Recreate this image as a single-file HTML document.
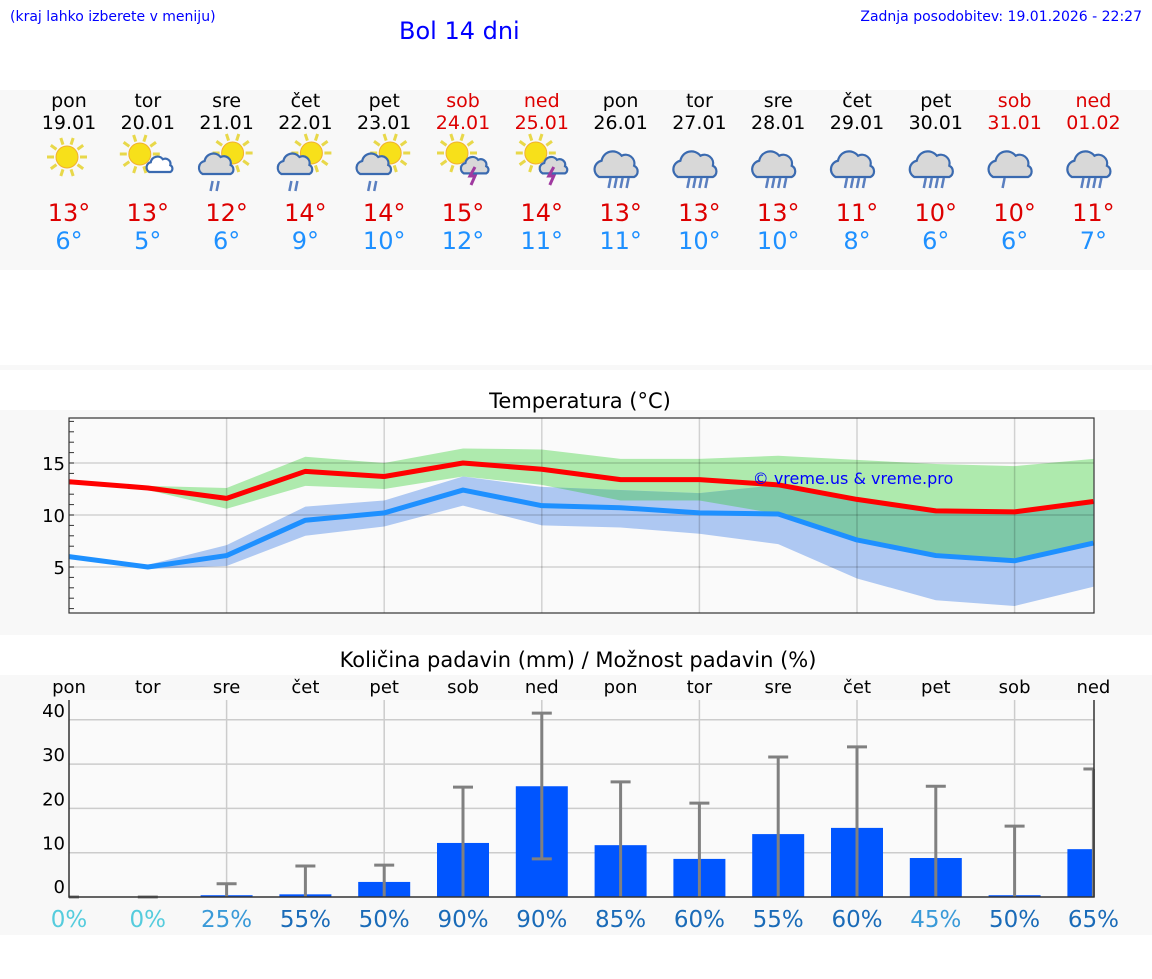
<!DOCTYPE html>
<html><head><meta charset="utf-8">
<style>
html,body{margin:0;padding:0;background:#fff;}
body{width:1152px;height:975px;overflow:hidden;font-family:"DejaVu Sans","Liberation Sans",sans-serif;}
svg text{font-family:"DejaVu Sans","Liberation Sans",sans-serif;}
</style></head>
<body>
<svg id="s" width="1152" height="975" viewBox="0 0 1152 975" xmlns="http://www.w3.org/2000/svg">
<text x="10" y="21" font-size="14" fill="#00f">(kraj lahko izberete v meniju)</text>
<text x="399" y="39" font-size="24" fill="#00f">Bol 14 dni</text>
<text x="1142" y="21" font-size="14" fill="#00f" text-anchor="end">Zadnja posodobitev: 19.01.2026 - 22:27</text>
<rect x="0" y="90" width="1152" height="180" fill="#f8f8f8"/>
<rect x="0" y="365" width="1152" height="5" fill="#f8f8f8"/>
<rect x="0" y="410" width="1152" height="225" fill="#f8f8f8"/>
<rect x="0" y="675" width="1152" height="260" fill="#f8f8f8"/>
<text x="580" y="408" font-size="21" text-anchor="middle" fill="#000">Temperatura (°C)</text>
<text x="578" y="667" font-size="21" text-anchor="middle" fill="#000">Količina padavin (mm) / Možnost padavin (%)</text>
<defs><clipPath id="blueclip"><polygon id="bluepoly" points=""/></clipPath></defs>
<g id="top"></g><g id="tc"></g><g id="pc"></g>
</svg>
<script>
const days=["pon","tor","sre","čet","pet","sob","ned","pon","tor","sre","čet","pet","sob","ned"];
const dates=["19.01","20.01","21.01","22.01","23.01","24.01","25.01","26.01","27.01","28.01","29.01","30.01","31.01","01.02"];
const icons=["sun","suncloud","sunrain","sunrain","sunrain","sunstorm","sunstorm","rain","rain","rain","rain","rain","rain2","rain"];
const hiLabel=[13,13,12,14,14,15,14,13,13,13,11,10,10,11];
const loLabel=[6,5,6,9,10,12,11,11,10,10,8,6,6,7];
const tMax=[13.2,12.6,11.6,14.2,13.7,15.0,14.4,13.4,13.4,12.9,11.5,10.4,10.3,11.3];
const tMin=[6.0,5.0,6.1,9.5,10.2,12.4,10.9,10.7,10.2,10.1,7.6,6.1,5.6,7.3];
const maxHi=[13.3,12.8,12.6,15.6,15.0,16.4,16.3,15.4,15.4,15.7,15.3,14.9,14.7,15.4];
const maxLo=[13.1,12.4,10.6,12.8,12.5,13.7,12.9,11.4,11.4,10.1,7.6,6.1,5.6,7.3];
const minHi=[6.1,5.2,7.1,10.8,11.4,13.7,12.7,12.4,12.1,12.9,11.5,10.4,10.3,11.3];
const minLo=[5.9,4.8,5.1,8.0,8.9,10.9,9.0,8.8,8.2,7.2,3.9,1.8,1.25,3.1];
const precip=[0,0,0.4,0.6,3.4,12.2,25,11.7,8.6,14.2,15.6,8.8,0.4,10.8];
const precipHi=[0,0,3,7,7.2,24.8,41.5,26,21.2,31.6,33.9,25,16,28.9];
const precipLo=[0,0,0,0,0,0,8.6,0,0,0,0,0,0,0];
const chance=[0,0,25,55,50,90,90,85,60,55,60,45,50,65];
const tTicks=[5,10,15];
const pTicks=[10,20,30,40];

const NS="http://www.w3.org/2000/svg";
function mk(p,t,a){const e=document.createElementNS(NS,t);for(const k in a)e.setAttribute(k,a[k]);p.appendChild(e);return e;}
const X=i=>69+i*78.8;
const topG=document.getElementById('top');
function sun(g,cx,cy,r){
  for(let k=0;k<10;k++){const a=k*Math.PI/5;mk(g,'line',{x1:cx+Math.cos(a)*(r+2),y1:cy+Math.sin(a)*(r+2),x2:cx+Math.cos(a)*(r+9),y2:cy+Math.sin(a)*(r+9),stroke:'#e8d84a','stroke-width':3});}
  mk(g,'circle',{cx:cx,cy:cy,r:r,fill:'#f7e01a',stroke:'#f0b030','stroke-width':1});
}
function cloud(g,cx,cy,s,fill){
  const d=`M${cx-14*s},${cy+8*s} a${7*s},${7*s} 0 0 1 ${2*s},${-13*s} a${9*s},${9*s} 0 0 1 ${16*s},${-4*s} a${7*s},${7*s} 0 0 1 ${10*s},${8*s} a${5*s},${5*s} 0 0 1 ${0},${9*s} z`;
  mk(g,'path',{d:d,fill:fill,stroke:'#3a6ab0','stroke-width':2.2});
}
function drops(g,cx,cy,n){for(let k=0;k<n;k++){mk(g,'line',{x1:cx+k*6,y1:cy,x2:cx+k*6-2,y2:cy+10,stroke:'#5a7fc0','stroke-width':2.5});}}
days.forEach((d,i)=>{
  const x=X(i);const we=(i==5||i==6||i==12||i==13);const col=we?'#d00':'#000';
  const t1=mk(topG,'text',{x:x,y:107,'font-size':19,'text-anchor':'middle',fill:col});t1.textContent=d;
  
  
  const t2=mk(topG,'text',{x:x,y:129,'font-size':19,'text-anchor':'middle',fill:col});t2.textContent=dates[i];
  
  
  const g=mk(topG,'g',{});
  
  
  const ic=icons[i];
  if(ic=='sun'){sun(g,x-2,157,11);}
  else if(ic=='suncloud'){sun(g,x-8,154,11);cloud(g,x+12,166,0.75,'#fff');}
  else if(ic=='sunrain'){sun(g,x+6,153,11);cloud(g,x-10,166,1,'#d8d8d8');drops(g,x-14,181,2);}
  else if(ic=='sunstorm'){sun(g,x-6,153,11);cloud(g,x+12,167,0.8,'#d8d8d8');mk(g,'path',{d:`M${x+12},${167} l-5,9 h5 l-4,9`,stroke:'#a03aa0','stroke-width':3,fill:'none'});}
  else {cloud(g,x-4,167,1.25,'#d8d8d8');drops(g,x-10,178,ic=='rain2'?1:4);}
  const h=mk(topG,'text',{x:x,y:221,'font-size':24,'text-anchor':'middle',fill:'#d00'});h.textContent=hiLabel[i]+'°';
  
  
  const l=mk(topG,'text',{x:x,y:249,'font-size':24,'text-anchor':'middle',fill:'#1e90ff'});l.textContent=loLabel[i]+'°';
  
  
});
// temperature chart
const tc=document.getElementById('tc');
const L=69,R=1094,TT=418,TB=613;
const yT=v=>515-(v-10)*10.4;
const bg=mk(tc,'rect',{x:L,y:TT,width:R-L,height:TB-TT,fill:'#fafafa'});


const xs=tMax.map((_,i)=>Math.min(X(i),R));
function bandPts(hi,lo){return hi.map((v,i)=>xs[i]+','+yT(v)).concat(lo.map((v,i)=>xs[i]+','+yT(v)).reverse()).join(' ');}
const gp=mk(tc,'polygon',{points:bandPts(maxHi,maxLo),fill:'#aeeaad'});


const bp=mk(tc,'polygon',{points:bandPts(minHi,minLo),fill:'#aec8f2'});


document.getElementById('bluepoly').setAttribute('points',bandPts(minHi,minLo));
const op=mk(tc,'polygon',{points:bandPts(maxHi,maxLo),fill:'#7ec8a8','clip-path':'url(#blueclip)'});


tTicks.forEach(v=>{mk(tc,'line',{x1:L,x2:R,y1:yT(v),y2:yT(v),stroke:'#000','stroke-opacity':0.16,'stroke-width':1.5});
  const t=mk(tc,'text',{x:L-4,y:yT(v)+7,'font-size':18,'text-anchor':'end',fill:'#000'});t.textContent=v;
  
  });
for(let v=1;v<=19;v++){mk(tc,'line',{x1:L,x2:L+5,y1:yT(v),y2:yT(v),stroke:'#333','stroke-width':1});}
[2,4,6,8,10,12].forEach(i=>mk(tc,'line',{x1:X(i),x2:X(i),y1:TT,y2:TB,stroke:'#000','stroke-opacity':0.16,'stroke-width':1.5}));
function line(arr,col,name){const p=mk(tc,'polyline',{points:arr.map((v,i)=>xs[i]+','+yT(v)).join(' '),fill:'none',stroke:col,'stroke-width':5,'stroke-linejoin':'round'});
  
  }
line(tMin,'#1e90ff','min-temp-line');
line(tMax,'#ff0000','max-temp-line');
mk(tc,'rect',{x:L,y:TT,width:R-L,height:TB-TT,fill:'none',stroke:'#333','stroke-width':1.2});
const cp=mk(tc,'text',{x:853,y:484,'font-size':16,'text-anchor':'middle',fill:'#00f','font-family':'Liberation Sans'});cp.textContent='© vreme.us & vreme.pro';


// precipitation chart
const pc=document.getElementById('pc');
const PT=700,PB=897;
const yP=v=>PB-v*4.43;
const pbg=mk(pc,'rect',{x:L,y:PT,width:R-L,height:PB-PT,fill:'#fafafa'});


pTicks.forEach(v=>mk(pc,'line',{x1:L,x2:R,y1:yP(v),y2:yP(v),stroke:'#ccc','stroke-width':1.5}));
[0].concat(pTicks).forEach(v=>{const t=mk(pc,'text',{x:L-4,y:yP(v)+(v==0?-4:-3),'font-size':18,'text-anchor':'end',fill:'#000'});t.textContent=v;
  
  });
[2,4,6,8,10,12].forEach(i=>mk(pc,'line',{x1:X(i),x2:X(i),y1:PT,y2:PB,stroke:'#ccc','stroke-width':1.5}));
days.forEach((d,i)=>{const t=mk(pc,'text',{x:X(i),y:693,'font-size':18,'text-anchor':'middle',fill:'#000'});t.textContent=d;
  
  });
precip.forEach((v,i)=>{
  const x=X(i);const x0=Math.max(L,x-26),x1=Math.min(R,x+26);
  if(v>0){const b=mk(pc,'rect',{x:x0,y:yP(v),width:x1-x0,height:PB-yP(v),fill:'#0055ff'});
    
    }
  const xe=Math.min(x,R);
  const e=mk(pc,'g',{});
  
  
  mk(e,'line',{x1:xe,x2:xe,y1:yP(precipHi[i]),y2:yP(precipLo[i]),stroke:'#808080','stroke-width':3});
  mk(e,'line',{x1:Math.max(L,x-10),x2:Math.min(R,x+10),y1:yP(precipHi[i]),y2:yP(precipHi[i]),stroke:'#808080','stroke-width':3});
  if(precipLo[i]>0)mk(e,'line',{x1:x-10,x2:x+10,y1:yP(precipLo[i]),y2:yP(precipLo[i]),stroke:'#808080','stroke-width':3});
  const c=chance[i];const col=c==0?'#55ccdd':(c<50?'#3a9ad8':'#1a6bb8');
  const t=mk(pc,'text',{x:x,y:927,'font-size':23,'text-anchor':'middle',fill:col});t.textContent=c+'%';
  
  
});
mk(pc,'polyline',{points:`${L},${PT} ${L},${PB} ${R},${PB} ${R},${PT}`,fill:'none',stroke:'#333','stroke-width':1.5});
</script>
</body></html>
